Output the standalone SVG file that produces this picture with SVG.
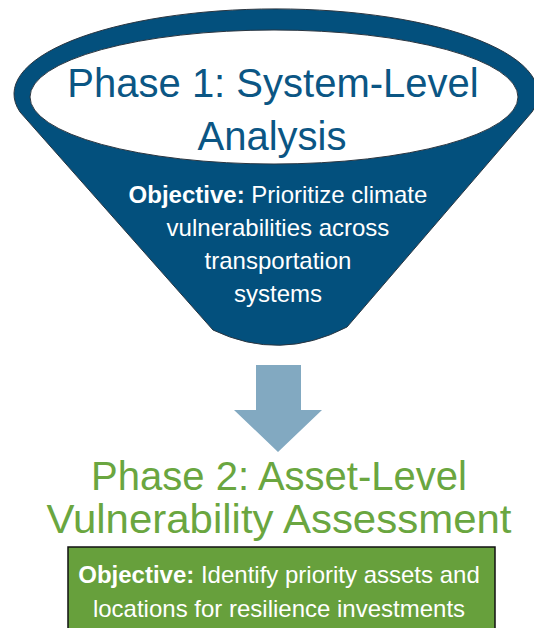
<svg xmlns="http://www.w3.org/2000/svg" width="534" height="628" viewBox="0 0 534 628">
<style>
.t1{font-family:"Liberation Sans",Arial,sans-serif;font-size:40px;fill:#0B5684;text-anchor:middle}
.t2{font-family:"Liberation Sans",Arial,sans-serif;font-size:40px;fill:#6AA640;text-anchor:middle}
.o{font-family:"Liberation Sans",Arial,sans-serif;font-size:24px;fill:#FFFFFF;text-anchor:middle}
.b{font-weight:bold}
</style>
<rect width="534" height="628" fill="#FFFFFF"/>
<g id="phase1">
<path d="M20,112 A262,85 0 1,1 532,112 L347,327 Q280,362 213,330 Z" fill="#03507D" stroke="#2A3540" stroke-width="1"/>
<ellipse cx="274" cy="97" rx="244" ry="67" fill="#FFFFFF" stroke="#2A3540" stroke-width="1"/>
<text class="t1" x="273" y="97">Phase 1: System-Level</text>
<text class="t1" x="272" y="150">Analysis</text>
<text class="o" x="278" y="203"><tspan class="b">Objective:</tspan> Prioritize climate</text>
<text class="o" x="278" y="236">vulnerabilities across</text>
<text class="o" x="278" y="269">transportation</text>
<text class="o" x="278" y="302">systems</text>
</g>
<g id="connectors">
<path d="M256,365 H301 V410 H322 L278,452 L234,410 H256 Z" fill="#82A9C1"/>
</g>
<g id="phase2">
<text class="t2" x="279" y="490">Phase 2: Asset-Level</text>
<text class="t2" x="279" y="533" textLength="465" lengthAdjust="spacingAndGlyphs">Vulnerability Assessment</text>
<rect x="68" y="547" width="427" height="90" fill="#67A03C" stroke="#111111" stroke-width="1.5"/>
<text class="o" x="279" y="583"><tspan class="b">Objective:</tspan> Identify priority assets and</text>
<text class="o" x="279" y="617">locations for resilience investments</text>
</g>
</svg>
